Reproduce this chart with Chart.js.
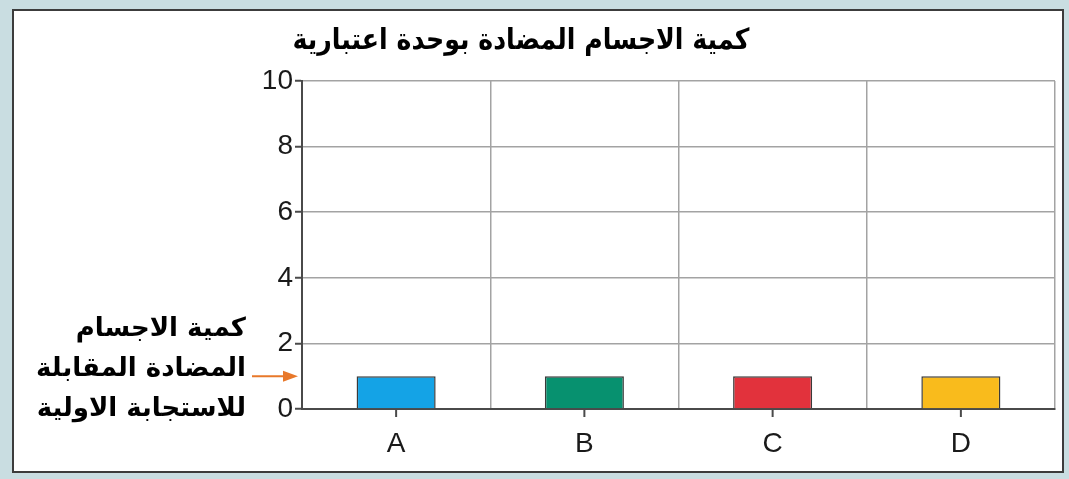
<!DOCTYPE html>
<html lang="ar">
<head>
<meta charset="utf-8">
<title>كمية الاجسام المضادة بوحدة اعتبارية</title>
<script src="https://cdn.jsdelivr.net/npm/chart.js@4.4.1/dist/chart.umd.min.js"></script>
<style>
  html, body { margin: 0; padding: 0; }
  body { width: 1069px; height: 479px; position: relative; overflow: hidden; background: #c9dde1; }
  .frame { position: absolute; left: 12px; top: 9px; width: 1048px; height: 460px;
           border: 2px solid #3c3c3c; background: #ffffff; }
  canvas { position: absolute; left: 0; top: 0; }
  .title { position: absolute; left: 0; top: 22px; width: 1042px; text-align: center; direction: rtl;
           font: bold 29px "DejaVu Sans", "Noto Sans", sans-serif; color: #000;
           transform: scaleX(0.87); transform-origin: 521px 0; }
  .note { position: absolute; left: 0; width: 246px; top: 307px; text-align: right; direction: rtl;
          font: bold 26px "DejaVu Sans", "Noto Sans", sans-serif; line-height: 40px; color: #000; }
</style>
</head>
<body>
<div class="frame"></div>
<canvas id="chart" width="1069" height="479"></canvas>
<div class="title">كمية الاجسام المضادة بوحدة اعتبارية</div>
<div class="note">كمية الاجسام<br>المضادة المقابلة<br>للاستجابة الاولية</div>
<script>
// Antibody amount (arbitrary units) per antigen group
const categories = ['A', 'B', 'C', 'D'];
const antibodyLevels = [1, 1, 1, 1];
const barColors = ['#14a3e6', '#07916f', '#e2323c', '#f9bb1c'];
const yTickMin = 0;
const yTickMax = 10;
const yTickStep = 2;
// level of the primary response pointed at by the arrow
const primaryLevel = 1;

const axisColor = '#4a4a4a';
const gridColor = '#a3a3a3';
const tickFont = { family: '"Liberation Sans", Arial, sans-serif', size: 28 };

// short tick marks under the category centres + the orange arrow on the y axis
const decorations = {
  id: 'decorations',
  afterDraw(chart) {
    const { ctx, chartArea, scales } = chart;
    ctx.save();
    ctx.strokeStyle = axisColor;
    ctx.lineWidth = 2;
    categories.forEach((c, i) => {
      const x = scales.x.getPixelForValue(i);
      ctx.beginPath();
      ctx.moveTo(x, chartArea.bottom);
      ctx.lineTo(x, chartArea.bottom + 8);
      ctx.stroke();
    });
    const y = scales.y.getPixelForValue(primaryLevel);
    const x0 = chartArea.left - 50;
    const x1 = chartArea.left - 4;
    ctx.strokeStyle = '#e8782a';
    ctx.fillStyle = '#e8782a';
    ctx.lineWidth = 2;
    ctx.beginPath();
    ctx.moveTo(x0, y);
    ctx.lineTo(x1 - 12, y);
    ctx.stroke();
    ctx.beginPath();
    ctx.moveTo(x1, y);
    ctx.lineTo(x1 - 15, y - 5.5);
    ctx.lineTo(x1 - 15, y + 5.5);
    ctx.closePath();
    ctx.fill();
    ctx.restore();
  }
};

new Chart(document.getElementById('chart'), {
  type: 'bar',
  data: {
    labels: categories,
    datasets: [{
      data: antibodyLevels,
      backgroundColor: barColors,
      borderColor: '#3a3a3a',
      borderWidth: 1.5,
      categoryPercentage: 1,
      barPercentage: 0.42
    }]
  },
  options: {
    responsive: false,
    animation: false,
    layout: { padding: { top: 81, right: 14, bottom: 0, left: 0 } },
    plugins: { legend: { display: false }, tooltip: { enabled: false }, title: { display: false } },
    scales: {
      x: {
        grid: { offset: true, color: gridColor, lineWidth: 1.5, drawTicks: false },
        border: { color: axisColor, width: 2 },
        ticks: { font: tickFont, color: '#1a1a1a', padding: 18 },
        afterFit(s) { s.height = 70; }
      },
      y: {
        min: yTickMin,
        max: yTickMax,
        grid: { color: gridColor, lineWidth: 1.5, tickLength: 7, tickColor: axisColor, tickWidth: 2 },
        border: { color: axisColor, width: 2 },
        ticks: { stepSize: yTickStep, font: tickFont, color: '#1a1a1a', padding: 2 },
        afterFit(s) { s.width = 302; }
      }
    }
  },
  plugins: [decorations]
});
</script>
</body>
</html>
